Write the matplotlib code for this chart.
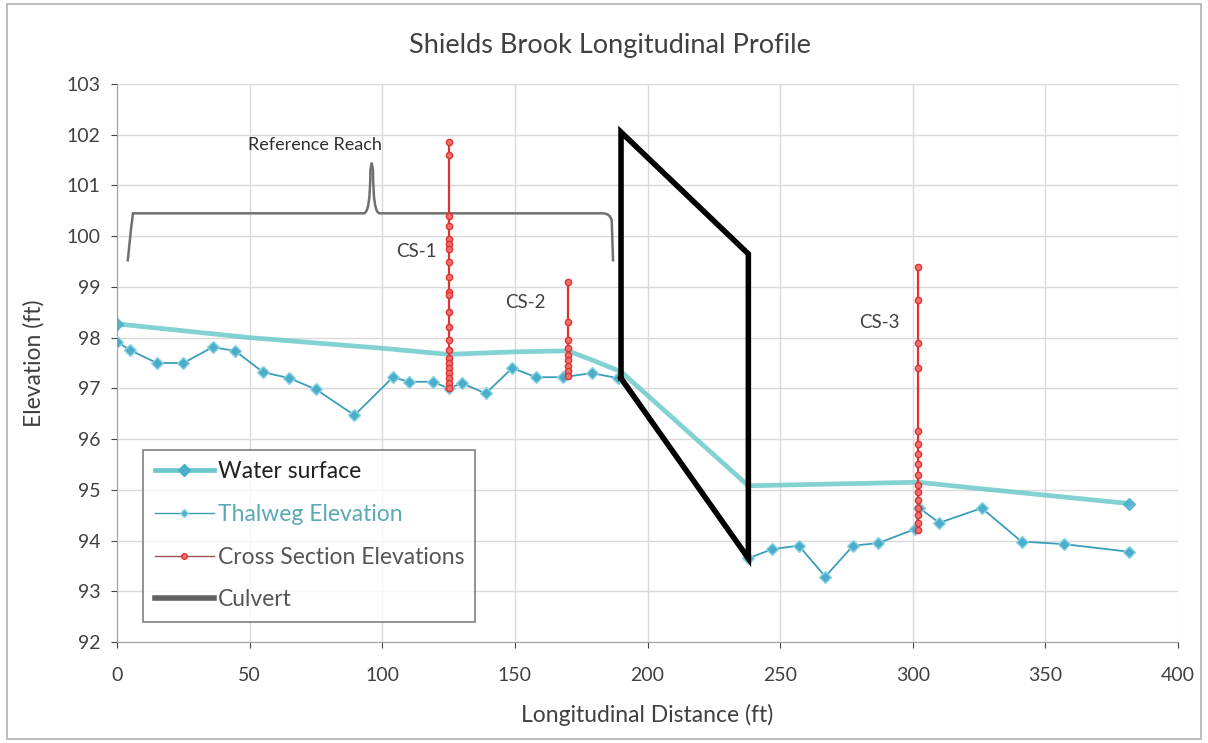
import matplotlib
matplotlib.use("Agg")
import matplotlib.pyplot as plt
from matplotlib.path import Path
from matplotlib.patches import PathPatch
from matplotlib.lines import Line2D

plt.rcParams['font.family'] = ['Lato', 'DejaVu Sans']

# Thalweg elevation (lower line with markers)
thal_x = [0, 5, 15, 25, 36, 44.5, 55, 65, 75, 89.5, 104, 110, 119, 125, 130, 139, 149, 158, 168, 179, 189,
          238, 247, 257, 267, 277.5, 287, 301, 302.5, 310, 326, 341, 357, 381.5]
thal_y = [97.92, 97.75, 97.5, 97.5, 97.81, 97.74, 97.32, 97.2, 96.98, 96.47, 97.22, 97.13, 97.13, 97.0, 97.1, 96.9,
          97.4, 97.22, 97.22, 97.3, 97.2,
          93.65, 93.83, 93.9, 93.29, 93.9, 93.95, 94.23, 94.64, 94.35, 94.64, 93.98, 93.93, 93.78]

# Water surface (upper line)
ws_x = [0, 50, 100, 125, 150, 170, 179, 190, 238, 302, 326, 381.5]
ws_y = [98.27, 98.0, 97.79, 97.67, 97.72, 97.74, 97.56, 97.33, 95.08, 95.15, 95.02, 94.73]

# Cross sections
cs1_x = 125
cs1_y = [101.85, 101.6, 100.4, 100.2, 99.95, 99.85, 99.75, 99.5, 99.2, 98.9, 98.85, 98.5, 98.2, 97.95,
         97.75, 97.6, 97.5, 97.4, 97.3, 97.2, 97.1, 97.0]
cs2_x = 170
cs2_y = [99.1, 98.3, 97.95, 97.8, 97.65, 97.55, 97.45, 97.35, 97.25]
cs3_x = 302
cs3_y = [99.4, 98.75, 97.9, 97.4, 96.15, 95.9, 95.7, 95.5, 95.3, 95.1, 94.95, 94.8, 94.65, 94.5, 94.35, 94.2]

# Culvert outline
culv_x = [190, 190, 238, 238, 190]
culv_y = [97.2, 102.05, 99.65, 93.65, 97.2]

fig = plt.figure(figsize=(12.08, 7.43), dpi=100)
ax = fig.add_axes([0.0969, 0.1359, 0.8783, 0.7511])

ax.set_xlim(0, 400)
ax.set_ylim(92, 103)
ax.set_xticks(range(0, 401, 50))
ax.set_yticks(range(92, 104))
ax.grid(True, color='#d9d9d9', linewidth=1.0)
ax.set_axisbelow(True)
for s in ['top', 'right']:
    ax.spines[s].set_visible(False)
for s in ['left', 'bottom']:
    ax.spines[s].set_color('#a0a0a0')
ax.tick_params(colors='#404040', labelsize=14, length=4)
ax.tick_params(axis='x', pad=14)
ax.tick_params(axis='y', pad=8)

ax.plot(ws_x, ws_y, color='#6cc9cc', lw=3.4, alpha=0.85, marker='D', markersize=6,
        markevery=[0, len(ws_x) - 1], markerfacecolor='#4aaecb', markeredgecolor='#4aaecb',
        label='Water surface', zorder=3)
ax.plot(thal_x, thal_y, color='#3a9eb8', lw=1.3, marker='D', markersize=6,
        markerfacecolor='#4aaecb', markeredgecolor='#8fd4e4', label='Thalweg Elevation', zorder=4)

red = '#e0322e'
for cx, cy in [(cs1_x, cs1_y), (cs2_x, cs2_y), (cs3_x, cs3_y)]:
    ax.plot([cx] * len(cy), cy, color=red, lw=1.6, marker='o', markersize=4.5,
            markerfacecolor='#f07070', markeredgecolor=red, zorder=5)

ax.plot(culv_x, culv_y, color='black', lw=4, solid_joinstyle='miter', zorder=6)

# Reference reach brace
verts = [(4, 99.5), (5.5, 100.3), (6, 100.45), (9, 100.45),
         (93, 100.45), (95.5, 100.45), (95.5, 101.3), (96, 101.45),
         (96.5, 101.3), (96.5, 100.45), (99, 100.45),
         (183, 100.45), (186, 100.45), (186.5, 100.3), (187, 99.5)]
codes = [Path.MOVETO, Path.CURVE3, Path.CURVE3, Path.LINETO,
         Path.LINETO, Path.CURVE3, Path.CURVE3, Path.LINETO,
         Path.LINETO, Path.CURVE3, Path.CURVE3,
         Path.LINETO, Path.CURVE3, Path.CURVE3, Path.LINETO]
ax.add_patch(PathPatch(Path(verts, codes), facecolor='none', edgecolor='#707070', lw=1.8, zorder=2))
ax.text(74.6, 101.8, 'Reference Reach', ha='center', va='center', fontsize=13, color='#303030')

ax.text(120.5, 99.7, 'CS-1', ha='right', va='center', fontsize=13.5, color='#404040')
ax.text(161.5, 98.7, 'CS-2', ha='right', va='center', fontsize=13.5, color='#404040')
ax.text(295, 98.3, 'CS-3', ha='right', va='center', fontsize=13.5, color='#404040')

ax.set_title('Shields Brook Longitudinal Profile', fontsize=19.5, color='#404040', pad=22, x=0.4647)
ax.set_xlabel('Longitudinal Distance (ft)', fontsize=16.5, color='#404040', labelpad=14)
ax.set_ylabel('Elevation (ft)', fontsize=16.5, color='#404040', labelpad=16)

h_ws = Line2D([], [], color='#6cc9cc', lw=3.4, marker='D', markersize=6, markerfacecolor='#4aaecb',
              markeredgecolor='#4aaecb')
h_th = Line2D([], [], color='#3a9eb8', lw=1.0, marker='D', markersize=4, markerfacecolor='#4aaecb',
              markeredgecolor='#8fd4e4')
h_cs = Line2D([], [], color='#a05050', lw=1.0, marker='o', markersize=4, markerfacecolor='#f07070',
              markeredgecolor=red)
h_cv = Line2D([], [], color='#606060', lw=4)
leg = ax.legend([h_ws, h_th, h_cs, h_cv],
                ['Water surface', 'Thalweg Elevation', 'Cross Section Elevations', 'Culvert'],
                loc='lower left', bbox_to_anchor=(0.0245, 0.036), fontsize=16.5, frameon=True,
                fancybox=False, edgecolor='#606060', handlelength=2.6, handletextpad=0.15,
                labelspacing=0.95, borderpad=0.5, borderaxespad=0)
leg.get_frame().set_linewidth(1.2)
txt_colors = ['#202020', '#5aaab4', '#555555', '#555555']
for t, c in zip(leg.get_texts(), txt_colors):
    t.set_color(c)

# outer border
fig.patches.append(plt.Rectangle((0.006, 0.006), 0.988, 0.988, transform=fig.transFigure,
                                 fill=False, edgecolor='#b0b0b0', lw=1.2))

fig.savefig('out.png', dpi=100)
